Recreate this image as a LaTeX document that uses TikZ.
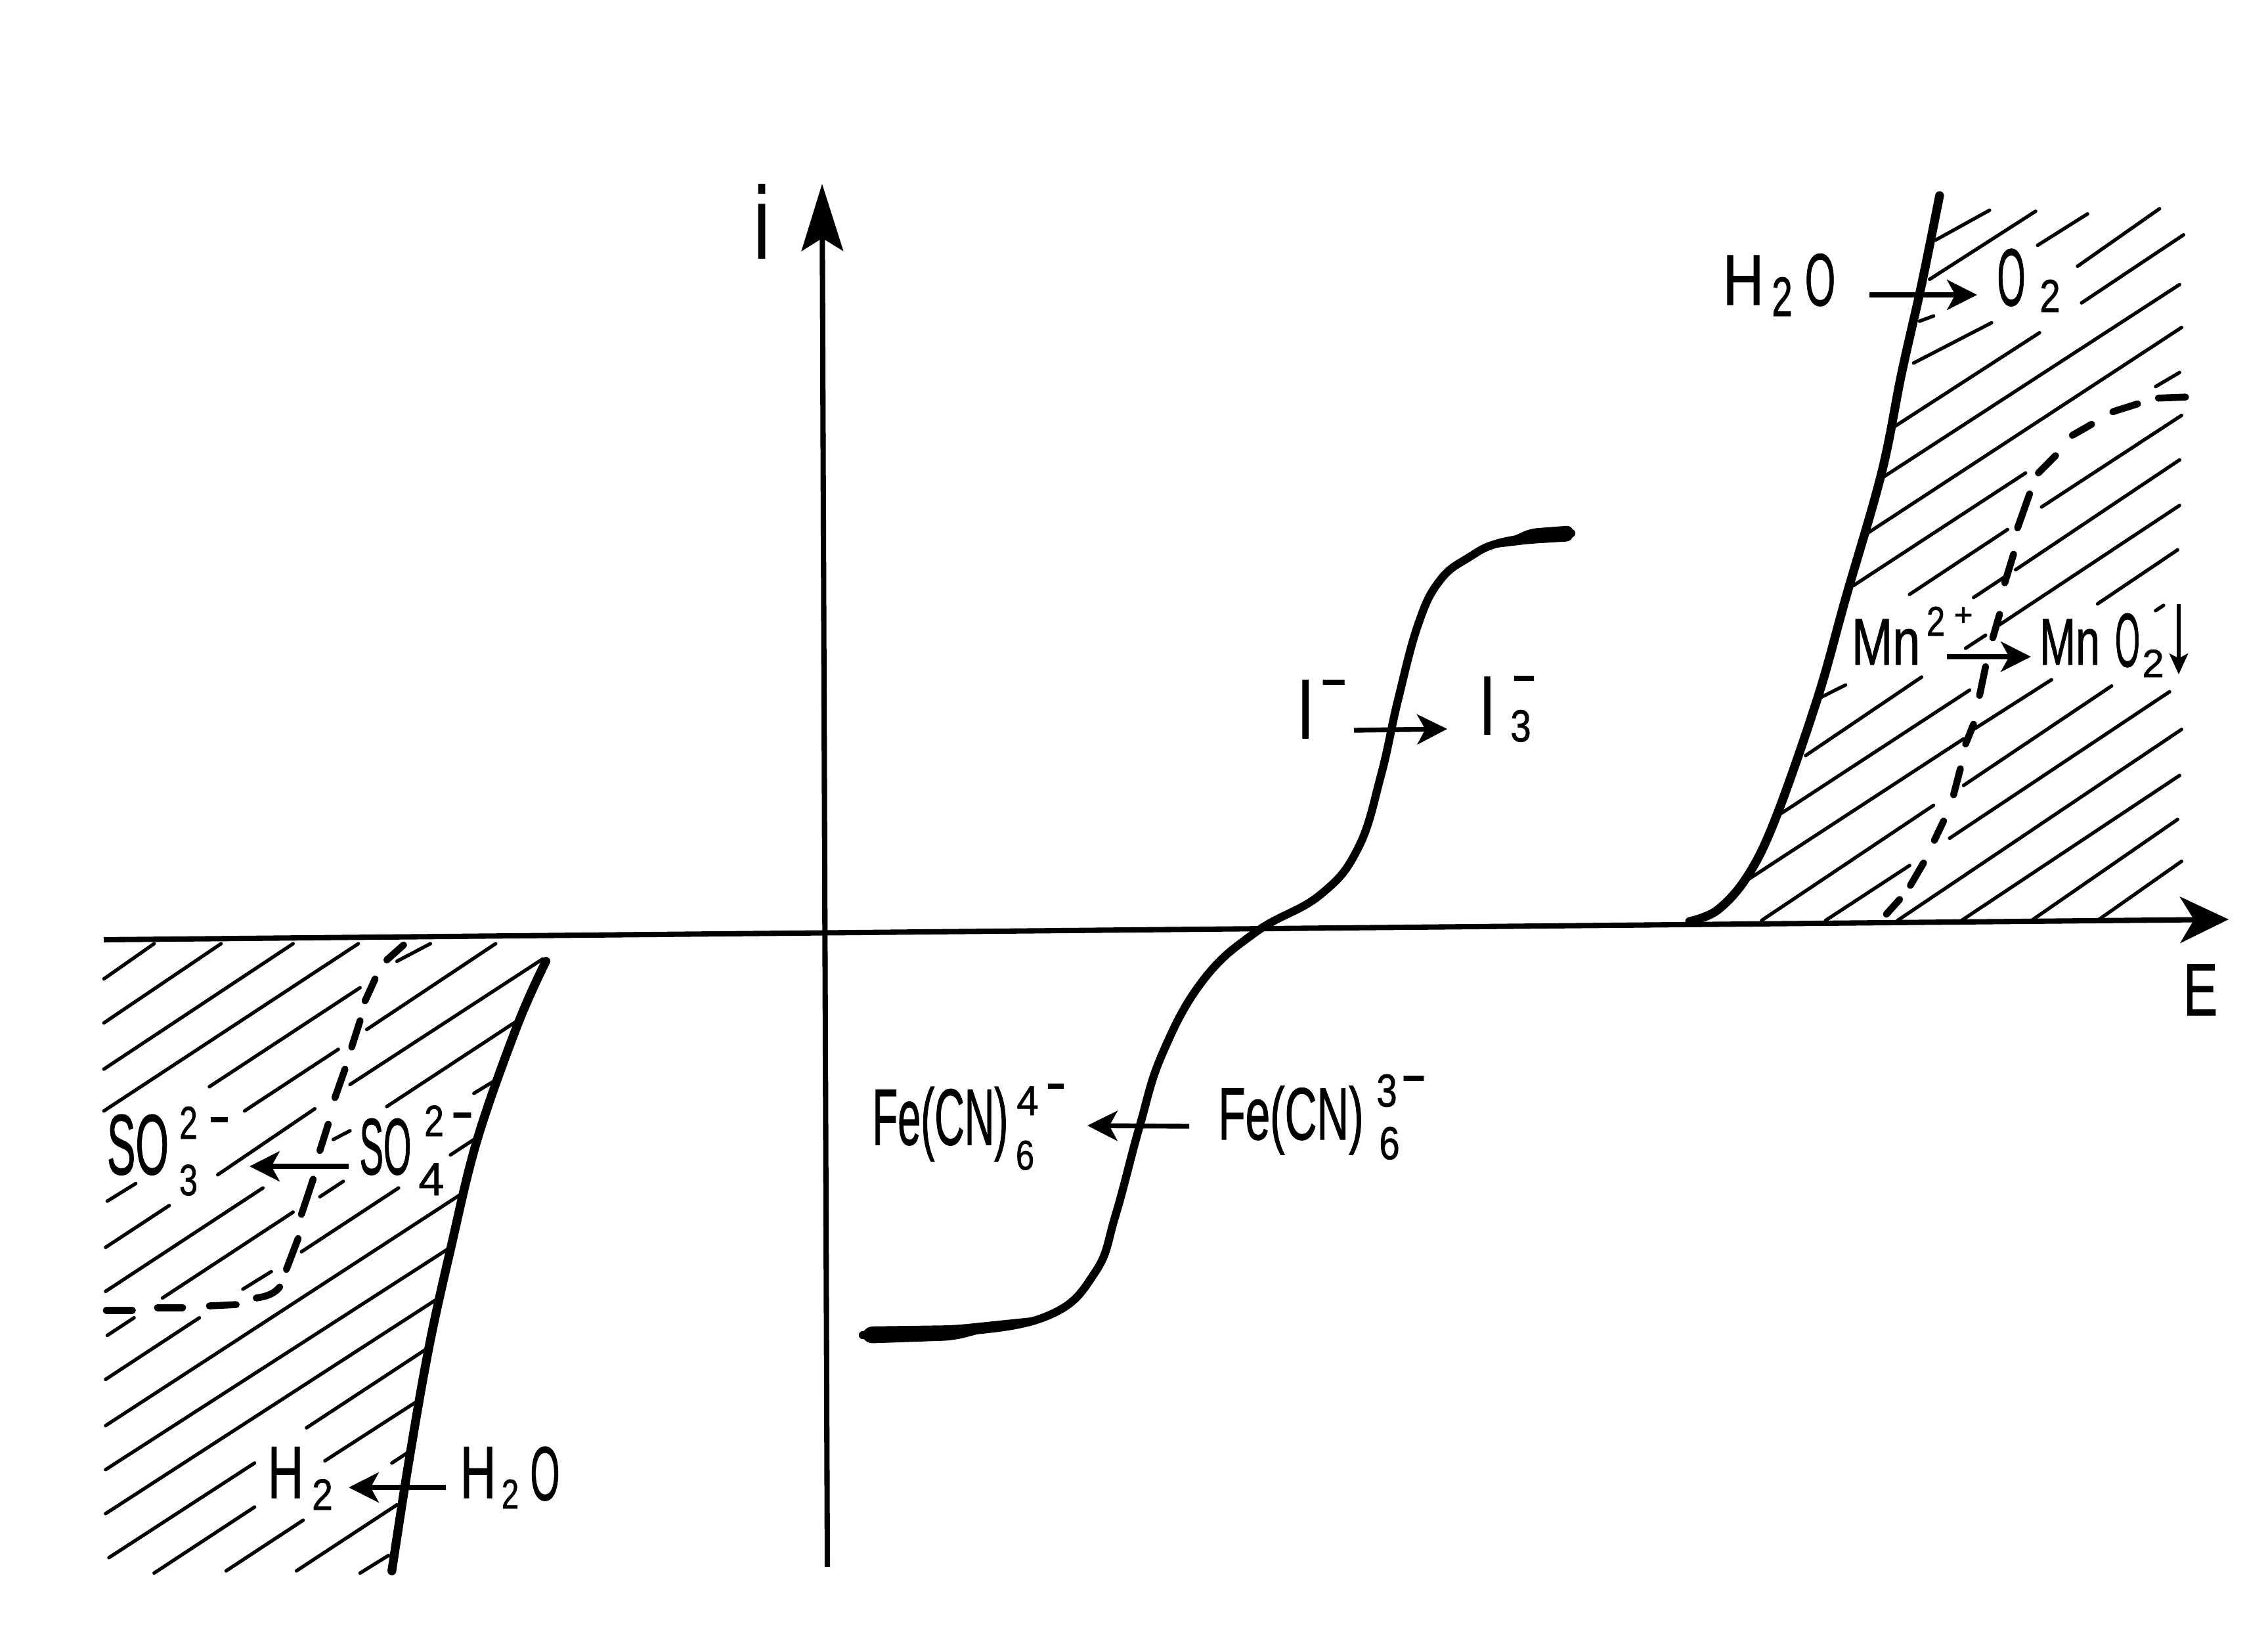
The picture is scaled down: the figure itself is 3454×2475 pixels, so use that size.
\documentclass[tikz,border=0pt]{standalone}
\usepackage{fontspec}
\setmainfont[FakeBold=1.2]{Liberation Sans}
\usetikzlibrary{arrows.meta}
\newcommand\gly[3]{\scalebox{#1}[1]{\fontsize{#2pt}{#2pt}\selectfont #3}}
\tikzset{
  lab/.style={inner sep=0pt,outer sep=0pt,anchor=base},
  hatchline/.style={line width=1.5pt,line cap=round},
  dashpiece/.style={line width=3pt,line cap=round},
  thickcurve/.style={line width=3.8pt,line cap=round,line join=round},
  axisline/.style={line width=2.3pt},
  reaction/.style={line width=2.1pt,-{Stealth[length=13pt,width=13pt,inset=3.5pt]}},
  zoneR/.style={shift={(2500,250)},x=0.006084cm,y=-0.007972cm},
  zoneL/.style={shift={(120,1380)},x=0.005102cm,y=-0.006696cm},
}
\begin{document}
\begin{tikzpicture}[x=0.01cm,y=-0.01cm]
\useasboundingbox (0,0) rectangle (3454,2475);
% ---------- axes
\coordinate (xstart) at (158,1431);
\coordinate (xend) at (3394,1400);
\coordinate (ystart) at (1260,2386);
\coordinate (yend) at (1252,280);
\draw[axisline,-{Stealth[length=21pt,width=20pt,inset=6pt]}] (xstart) -- (xend);
\draw[axisline,-{Stealth[length=29pt,width=18pt,inset=5.5pt]}] (ystart) -- (yend);
% ---------- right hatching
\begin{scope}[zoneR]
\foreach \a/\b/\c/\d in {
 735/145/870/88, 720/220/985/90, 990/155/1115/95, 1090/195/1295/85, 1100/265/1355/135,
 695/300/730/290, 680/380/875/303, 635/500/995/322, 600/600/1345/230, 565/705/1350/312,
 530/805/960/590, 1285/425/1345/398, 670/822/915/698, 1000/655/1350/480,
 830/828/905/790, 935/775/1345/565, 810/925/860/900, 895/880/1345/652,
 1140/840/1340/737, 1285/853/1305/843,
 445/1020/510/995, 410/1130/700/980, 350/1240/820/1005,
 270/1365/805/1098, 830/1080/1025/985, 300/1445/730/1225, 805/1187/1175/997,
 460/1445/670/1340, 770/1288/1320/1008, 640/1445/1350/1080, 800/1445/1345/1168,
 975/1445/1340/1252, 1140/1445/1350/1332}
  {\draw[hatchline] (\a,\b) -- (\c,\d);}
\foreach \a/\b/\c/\d in {
 612/1433/645/1405, 672/1378/705/1335, 732/1292/755/1255, 780/1205/797/1155,
 810/1108/830/1070, 845/1015/860/960, 878/905/895/860, 908/800/930/745,
 940/695/970/630, 992/590/1035/557, 1077/518/1125/497, 1178/473/1240/458, 1292/447/1360/445}
  {\draw[dashpiece] (\a,\b) -- (\c,\d);}
\draw[thickcurve] plot[smooth,tension=.6] coordinates {(745,60) (700,230) (650,400) (600,590) (510,830) (440,1020) (335,1250) (265,1360) (190,1425) (120,1447)};
\end{scope}
% ---------- left hatching
\begin{scope}[zoneL]
\foreach \a/\b/\c/\d in {
 75/165/225/85, 75/265/425/85, 75/370/640/85, 75/465/835/85,
 390/410/840/185, 950/125/1050/85, 495/465/775/325, 860/280/1245/85,
 85/670/170/630, 80/775/270/680, 415/610/705/460, 810/405/1385/120,
 80/875/550/640, 760/530/810/510, 920/455/1310/260,
 85/975/165/935, 250/890/640/695, 720/660/790/625, 1180/425/1245/395,
 80/1075/360/935, 490/870/575/830, 665/785/955/640, 1110/565/1190/525,
 80/1180/1150/650, 80/1280/1110/775, 80/1380/1075/890,
 90/1480/525/1265, 680/1185/1040/1005,
 225/1515/525/1365, 735/1260/1010/1125,
 440/1510/670/1395, 935/1265/985/1240,
 650/1510/950/1360, 840/1515/925/1475}
  {\draw[hatchline] (\a,\b) -- (\c,\d);}
\foreach \a/\b/\c/\d in {
 82/918/160/918, 235/912/310/912, 390/908/470/905, 620/825/655/755,
 665/700/700/620, 720/555/745/495, 765/435/795/370, 815/320/840/260, 855/215/885/165, 920/122/970/88}
  {\draw[dashpiece] (\a,\b) -- (\c,\d);}
\draw[dashpiece] (530,890) .. controls (560,887) and (585,880) .. (600,865);
\draw[thickcurve] plot[smooth,tension=.6] coordinates {(1395,125) (1310,270) (1190,530) (1110,780) (1045,1005) (985,1265) (935,1510)};
\end{scope}
% ---------- central wave
\draw[thickcurve,line width=3.5pt] plot[smooth,tension=.7] coordinates {(2393,812) (2290,825) (2235,850) (2192,885) (2160,950) (2129,1066) (2103,1181) (2068,1292) (2010,1363) (1913,1419) (1832,1493) (1770,1605) (1735,1717) (1699,1850) (1668,1937) (1597,2003) (1454,2029) (1314,2033)};
\fill[rounded corners=5pt] (1312,2020) -- (1454,2018) -- (1590,2004) -- (1454,2041) -- (1312,2046) -- cycle;
\fill[rounded corners=3pt] (2396,800) -- (2330,805) -- (2262,836) -- (2330,828) -- (2396,824) -- cycle;
% ---------- axis labels
\node[lab] (ilabel) at (1160,393) {\gly{.7}{44}{i}};
\node[lab] (elabel) at (3351,1546) {\gly{.7}{32}{E}};
% ---------- upper right labels
\node[lab] (h2oR) at (2655,464) {\gly{.79}{31}{H}};
\node[lab] (h2oRb) at (2714,481) {\gly{.67}{24}{2}};
\node[lab] (h2oRc) at (2772,465) {\gly{.53}{32}{O}};
\node[lab] (o2R) at (3063,465) {\gly{.45}{35}{O}};
\node[lab] (o2Rb) at (3122,475) {\gly{.8}{20}{2}};
\coordinate (a1s) at (2847,449); \coordinate (a1e) at (3011,449);
\draw[reaction] (a1s) -- (a1e);
\node[lab] (mn) at (2872,1012) {\gly{.75}{28.5}{Mn}};
\node[lab] (mnb) at (2948,968) {\gly{.8}{18}{2}};
\node[lab] (mnc) at (2990,953) {\gly{1}{14}{+}};
\node[lab] (mno) at (3152,1012) {\gly{.66}{28.5}{Mn}};
\node[lab] (mnob) at (3240,1015) {\gly{.42}{33}{O}};
\node[lab] (mnoc) at (3279,1031) {\gly{1}{17}{2}};
\coordinate (a2s) at (2965,1000); \coordinate (a2e) at (3093,1000);
\draw[reaction] (a2s) -- (a2e);
\coordinate (a3s) at (3318,920); \coordinate (a3e) at (3318,1027);
\draw[line width=1.8pt,-{Stealth[length=9pt,width=8pt,inset=2pt]}] (a3s) -- (a3e);
% ---------- iodide
\node[lab] (il) at (1988,1124) {\gly{.7}{36.5}{I}};
\node[lab] (ilm) at (2031,1064) {\gly{.59}{28}{–}};
\node[lab] (i3) at (2265,1118) {\gly{.7}{36}{I}};
\node[lab] (i3m) at (2321,1058) {\gly{.54}{28}{–}};
\node[lab] (i3b) at (2316,1129) {\gly{.82}{19.5}{3}};
\coordinate (a4s) at (2062,1112); \coordinate (a4e) at (2204,1110);
\draw[reaction] (a4s) -- (a4e);
% ---------- ferrocyanide
\node[lab] (fe4) at (1432,1743) {\gly{.52}{34.5}{Fe(CN)}};
\node[lab] (fe4a) at (1565,1698) {\gly{.95}{18}{4}};
\node[lab] (fe4b) at (1561,1781) {\gly{.8}{18}{6}};
\node[lab] (fe4m) at (1608,1679) {\gly{.43}{28}{–}};
\node[lab] (fe3) at (1966,1735) {\gly{.6}{32}{Fe(CN)}};
\node[lab] (fe3a) at (2112,1685) {\gly{.8}{20}{3}};
\node[lab] (fe3b) at (2116,1765) {\gly{.8}{20}{6}};
\node[lab] (fe3m) at (2153,1667) {\gly{.55}{28}{–}};
\coordinate (a5s) at (1811,1715); \coordinate (a5e) at (1656,1714);
\draw[reaction] (a5s) -- (a5e);
% ---------- lower left labels
\node[lab] (so3) at (210,1788) {\gly{.5}{37}{SO}};
\node[lab] (so3a) at (287,1734) {\gly{.7}{20}{2}};
\node[lab] (so3b) at (287,1820) {\gly{.75}{19}{3}};
\node[lab] (so3m) at (334,1730) {\gly{.46}{28}{–}};
\node[lab] (so4) at (587,1788) {\gly{.45}{34.5}{SO}};
\node[lab] (so4a) at (661,1730) {\gly{.8}{19}{2}};
\node[lab] (so4b) at (657,1820) {\gly{1}{20}{4}};
\node[lab] (so4m) at (704,1723) {\gly{.48}{28}{–}};
\coordinate (a6s) at (531,1776); \coordinate (a6e) at (380,1776);
\draw[reaction] (a6s) -- (a6e);
\node[lab] (h2) at (435,2281) {\gly{.67}{32}{H}};
\node[lab] (h2b) at (491,2299) {\gly{.85}{19}{2}};
\node[lab] (h2oL) at (728,2281) {\gly{.67}{32}{H}};
\node[lab] (h2oLb) at (777,2297) {\gly{.75}{18}{2}};
\node[lab] (h2oLc) at (830,2284) {\gly{.5}{33}{O}};
\coordinate (a7s) at (679,2265); \coordinate (a7e) at (531,2265);
\draw[reaction] (a7s) -- (a7e);
\end{tikzpicture}
\end{document}
